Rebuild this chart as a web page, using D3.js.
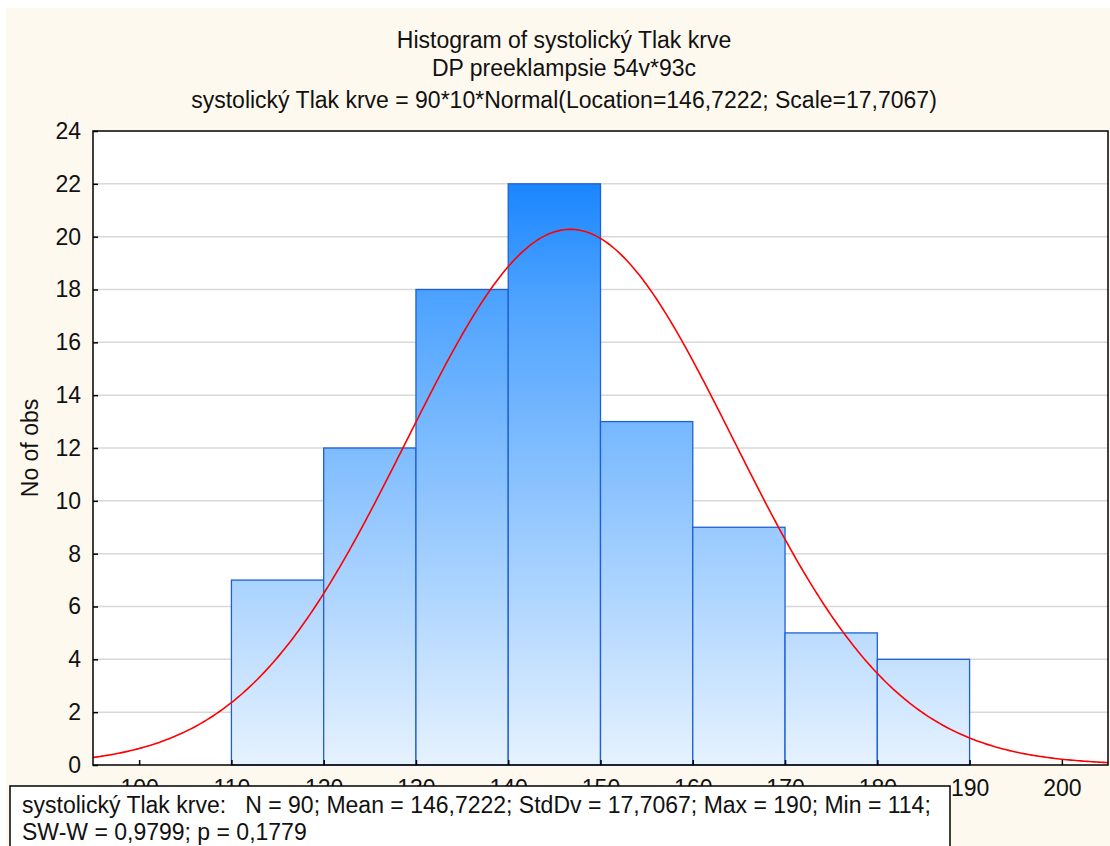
<!DOCTYPE html>
<html><head><meta charset="utf-8">
<script src="https://cdn.jsdelivr.net/npm/d3@7"></script>
<style>body{margin:0;background:#fff;}svg{display:block;font-family:"Liberation Sans",Arial,sans-serif;}</style>
</head><body><svg id="c" width="1110" height="846"></svg>
<script>
const binStarts = [110,120,130,140,150,160,170,180];
const binWidth = 10;
const counts = [7,12,18,22,13,9,5,4];
const xTicks = [100,110,120,130,140,150,160,170,180,190,200];
const yTicks = [0,2,4,6,8,10,12,14,16,18,20,22,24];
const titleLines = ["Histogram of systolický Tlak krve","DP preeklampsie 54v*93c","systolický Tlak krve = 90*10*Normal(Location=146,7222; Scale=17,7067)"];
const statsLines = ["systolický Tlak krve:   N = 90; Mean = 146,7222; StdDv = 17,7067; Max = 190; Min = 114;","SW-W = 0,9799; p = 0,1779"];
const loc = 146.7222, scale = 17.7067, nObs = 90;

const FS = 23;
const svg = d3.select("#c");
svg.append("rect").attr("x",6).attr("y",8).attr("width",1104).attr("height",838).attr("fill","#fef9ef");
const L=93,R=1108,T=131,B=765;
const x = d3.scaleLinear().domain([95,205]).range([L,R]);
const y = d3.scaleLinear().domain([0,24]).range([B,T]);
svg.append("rect").attr("x",L).attr("y",T).attr("width",R-L).attr("height",B-T).attr("fill","#fff");
// grid
svg.append("g").selectAll("line").data(yTicks.slice(1,-1)).join("line")
 .attr("x1",L).attr("x2",R).attr("y1",d=>y(d)).attr("y2",d=>y(d)).attr("stroke","#d8d8d8").attr("stroke-width",1.5);
// gradient
const defs=svg.append("defs");
const g=defs.append("linearGradient").attr("id","bg").attr("gradientUnits","userSpaceOnUse")
 .attr("x1",0).attr("x2",0).attr("y1",y(22)).attr("y2",y(0));
g.append("stop").attr("offset",0).attr("stop-color","#1a86ff");
g.append("stop").attr("offset",0.2).attr("stop-color","#4ea3ff");
g.append("stop").attr("offset",1).attr("stop-color","#e6f2ff");
svg.append("g").selectAll("rect").data(binStarts).join("rect")
 .attr("x",d=>x(d)).attr("width",d=>x(d+binWidth)-x(d))
 .attr("y",(d,i)=>y(counts[i])).attr("height",(d,i)=>y(0)-y(counts[i]))
 .attr("fill","url(#bg)").attr("stroke","#1f5fd6").attr("stroke-width",1.3);
// curve
const pts=d3.range(95,205.01,0.25).map(v=>[v, nObs*binWidth*Math.exp(-0.5*((v-loc)/scale)**2)/(scale*Math.sqrt(2*Math.PI))]);
svg.append("path").datum(pts).attr("fill","none").attr("stroke","#ff0000").attr("stroke-width",1.6)
 .attr("d",d3.line().x(d=>x(d[0])).y(d=>y(d[1])));
// frame
svg.append("rect").attr("x",L).attr("y",T).attr("width",R-L).attr("height",B-T).attr("fill","none").attr("stroke","#000").attr("stroke-width",1.5);
// y axis
const ya=svg.append("g").attr("transform",`translate(${L},0)`).call(d3.axisLeft(y).tickValues(yTicks).tickSize(-5).tickPadding(12));
ya.select(".domain").remove();
ya.selectAll("text").attr("font-size",FS).attr("fill","#111").attr("font-family","Liberation Sans,Arial,sans-serif");
ya.selectAll("line").attr("stroke","#000").attr("stroke-width",1.5);
// x axis
const xa=svg.append("g").attr("transform",`translate(0,${B})`).call(d3.axisBottom(x).tickValues(xTicks).tickSize(-5).tickPadding(15));
xa.select(".domain").remove();
xa.selectAll("text").attr("font-size",FS).attr("fill","#111").attr("font-family","Liberation Sans,Arial,sans-serif");
xa.selectAll("line").attr("stroke","#000").attr("stroke-width",1.5);
// titles
svg.append("g").selectAll("text").data(titleLines).join("text")
 .attr("x",564).attr("y",(d,i)=>[48,76,108][i]).attr("text-anchor","middle").attr("font-size",FS).attr("fill","#111").text(d=>d);
// y label
svg.append("text").attr("transform","translate(38,448) rotate(-90)").attr("text-anchor","middle").attr("font-size",FS).attr("fill","#111").text("No of obs");
// stats box
svg.append("rect").attr("x",10).attr("y",786).attr("width",940).attr("height",70).attr("fill","#fff").attr("stroke","#000").attr("stroke-width",1.5);
svg.append("g").selectAll("text").data(statsLines).join("text")
 .attr("x",22).attr("y",(d,i)=>[813,840][i]).attr("font-size",FS).attr("fill","#111").attr("xml:space","preserve").style("white-space","pre").text(d=>d);
</script></body></html>
